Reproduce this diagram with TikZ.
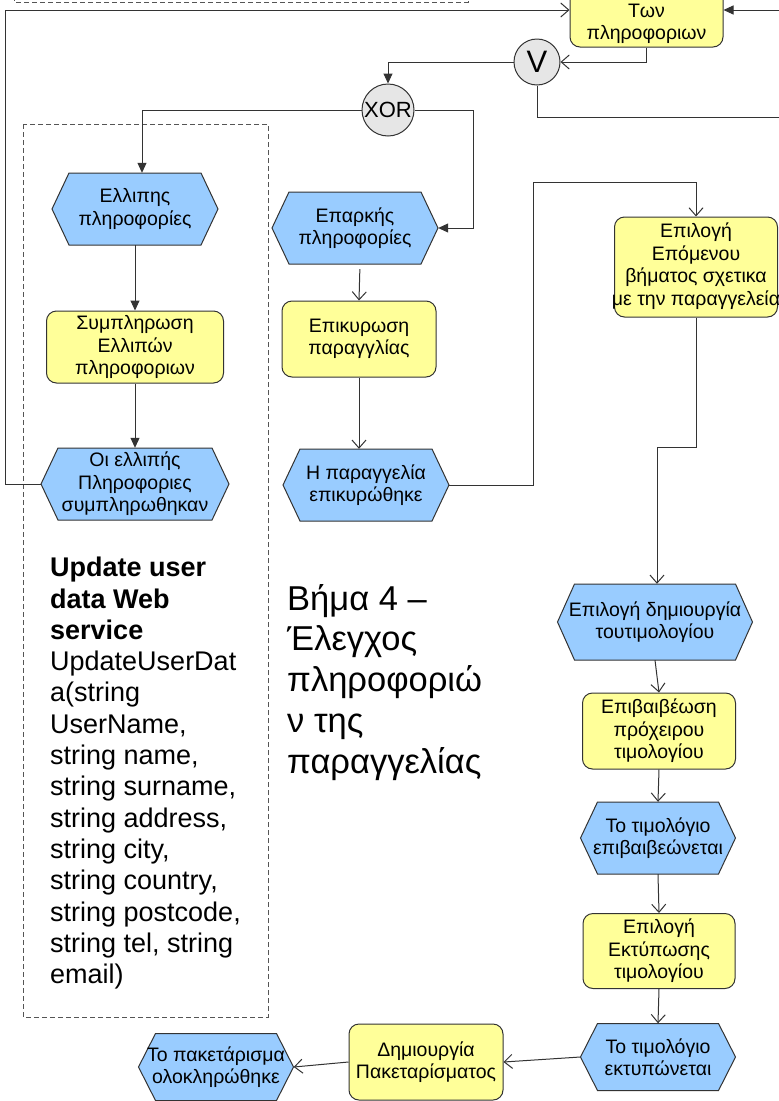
\documentclass[tikz,border=0pt]{standalone}
\usepackage{fontspec}
\setmainfont{Liberation Sans}
\usetikzlibrary{arrows.meta,calc}
\definecolor{hexblue}{HTML}{99CCFF}
\definecolor{boxyellow}{HTML}{FFFF99}
\definecolor{gatefill}{HTML}{E6E6E6}
\definecolor{edgec}{HTML}{333333}
\definecolor{dashc}{HTML}{555555}

\tikzset{
 nodefont/.style={font=\fontsize{19.5}{22.5}\selectfont},
 hexfill/.style={fill=hexblue, draw=edgec, line width=1pt},
 proc/.style={rectangle, rounded corners=10pt, fill=boxyellow, draw=edgec, line width=1pt, align=center, inner sep=0pt, nodefont},
 hexn/.style={rectangle, align=center, inner sep=0pt, nodefont},
 gate/.style={circle, fill=gatefill, draw=edgec, line width=1pt, inner sep=0pt},
 conn/.style={draw=edgec, line width=1pt},
 fillarr/.style={conn, -{Triangle[length=10pt,width=9pt]}},
 openarr/.style={conn, -{Straight Barb[length=8pt,width=14pt]}},
 dashbox/.style={draw=dashc, line width=0.9pt, dash pattern=on 5pt off 3pt},
}

\newcommand{\hexnode}[6]{%
 \filldraw[hexfill] ({#2-#4/2},#3) -- ({#2-#4/2+17},{#3-#5/2}) -- ({#2+#4/2-17},{#3-#5/2}) -- ({#2+#4/2},#3) -- ({#2+#4/2-17},{#3+#5/2}) -- ({#2-#4/2+17},{#3+#5/2}) -- cycle;
 \node[hexn, minimum width=#4pt, minimum height=#5pt] (#1) at (#2,#3) {#6};
}

\begin{document}
\begin{tikzpicture}[x=1pt,y=-1pt]
\useasboundingbox (0,0) rectangle (779,1101);

% dashed frames
\draw[dashbox] (14,-100) rectangle (468,2);
\draw[dashbox] (23,124) rectangle (268,1017);

% top process box (partly outside)
\node[proc, minimum width=153pt, minimum height=76pt] (ton) at (646.5,9) {};
\node[nodefont, align=center, inner sep=0pt] (tontext) at (646.5,24) {Των\\πληροφοριων};

% gates
\node[gate, minimum size=46pt, font=\fontsize{31}{31}\selectfont] (V) at (537,62) {V};
\node[gate, minimum size=52pt, font=\fontsize{22}{22}\selectfont] (xor) at (388,110) {XOR};

% left column
\hexnode{ell}{135}{209}{166}{72}{Ελλιπης\\πληροφορίες}
\node[proc, minimum width=177pt, minimum height=72pt] (sym) at (135,347) {Συμπληρωση\\Ελλιπών\\πληροφοριων};
\hexnode{oi}{135}{484}{188}{72}{Οι ελλιπής\\Πληροφοριες\\συμπληρωθηκαν}

% middle column
\hexnode{epa}{355}{228}{166}{72}{Επαρκής\\πληροφορίες}
\node[proc, minimum width=154pt, minimum height=76pt] (epk) at (359,339) {Επικυρωση\\παραγγλίας};
\hexnode{hpa}{366}{485}{166}{72}{Η παραγγελία\\επικυρώθηκε}

% right column
\node[proc, minimum width=163pt, minimum height=100pt] (epo) at (696,267) {\makebox[0pt][c]{\begin{tabular}{@{}c@{}}Επιλογή\\Επόμενου\\βήματος σχετικα\\με την παραγγελεία\end{tabular}}};
\hexnode{ed}{655}{622}{195}{76}{Επιλογή δημιουργία\\τουτιμολογίου}
\node[proc, minimum width=153pt, minimum height=76pt] (epb) at (659,731) {Επιβαιβέωση\\πρόχειρου\\τιμολογίου};
\hexnode{tep}{658}{838}{155}{72}{Το τιμολόγιο\\επιβαιβεώνεται}
\node[proc, minimum width=152pt, minimum height=75pt] (eke) at (659,951) {Επιλογή\\Εκτύπωσης\\τιμολογίου};
\hexnode{tek}{658}{1057}{155}{67}{Το τιμολόγιο\\εκτυπώνεται}
\node[proc, minimum width=154pt, minimum height=76pt] (dim) at (426,1062) {Δημιουργία\\Πακεταρίσματος};
\hexnode{pak}{216}{1067}{155}{67}{Το πακετάρισμα\\ολοκληρώθηκε}

% texts
\node[anchor=north west, align=left, inner sep=0pt, font=\fontsize{27}{31.3}\selectfont] (ws) at (50,557) {\textbf{Update user}\\\textbf{data Web}\\\textbf{service}\\UpdateUserDat\\a(string\\UserName,\\string name,\\string surname,\\string address,\\string city,\\string country,\\string postcode,\\string tel, string\\email)};
\node[anchor=north west, align=left, inner sep=0pt, font=\fontsize{34.5}{40.7}\selectfont] (stepfour) at (287,584) {Βήμα 4 –\\Έλεγχος\\πληροφοριώ\\ν της\\παραγγελίας};

% helper coordinates
\coordinate (L) at (5,10);
\coordinate (R1) at (779,10);
\coordinate (R2) at (779,117);
\coordinate (X1) at (473,110);
\coordinate (C1) at (533,182);
\coordinate (C2) at (657,447);

% connectors
\draw[openarr] (oi.west) -| (L) -- (L -| ton.west);
\draw[fillarr] (R1) -- (R1 -| ton.east);
\draw[openarr] (ton.south) |- (V.east);
\draw[fillarr] (V.west) -| (xor.north);
\draw[conn] (V.south) |- (R2);
\draw[fillarr] (xor.west) -| ([xshift=7pt]ell.north);
\draw[fillarr] (xor.east) -- (X1) |- (epa.east);
\draw[fillarr] (ell.south) -- (sym.north);
\draw[fillarr] (sym.south) -- (oi.north);
\draw[openarr, shorten <=5pt] ([xshift=5pt]epa.south) -- (epk.north);
\draw[openarr] (epk.south) -- (hpa.north -| epk.south);
\draw[openarr] (hpa.east) -| (C1) -| (epo.north);
\draw[openarr] (epo.south) |- (C2) -- (C2 |- ed.north);
\draw[openarr] (ed.south) -- (epb.north);
\draw[openarr] (epb.south) -- (tep.north);
\draw[openarr] (tep.south) -- (eke.north);
\draw[openarr] (eke.south) -- (tek.north);
\draw[openarr] (tek.west) -- (dim.east);
\draw[openarr] (dim.west) -- (pak.east);
\end{tikzpicture}
\end{document}
